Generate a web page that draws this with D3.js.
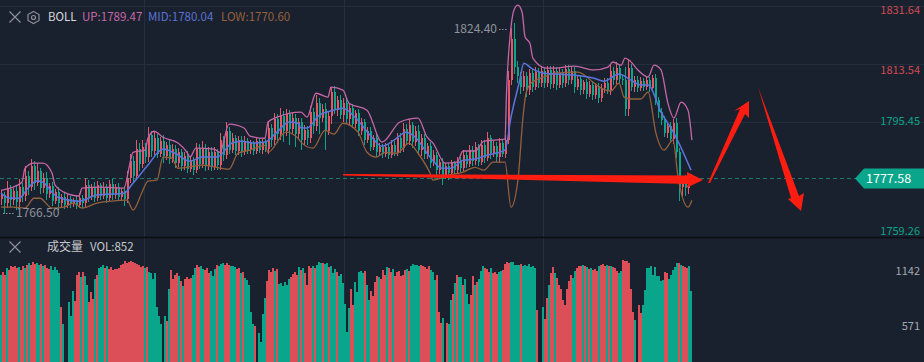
<!DOCTYPE html>
<html><head><meta charset="utf-8">
<script src="https://cdnjs.cloudflare.com/ajax/libs/d3/7.8.5/d3.min.js"></script>
<style>html,body{margin:0;padding:0;background:#1a212e;overflow:hidden}svg{display:block}text{font-family:"Noto Sans CJK SC","Noto Sans",sans-serif}</style>
</head><body><svg id="c" width="924" height="362"></svg>
<script>
const firstOpen = 1771.2;
const closes = [
1772.5,1769.8,1774.2,1771.0,1773.6,1770.2,1774.8,1772.1,1778.4,1775.0,
1781.6,1776.2,1779.8,1774.6,1777.9,1772.8,1775.2,1770.6,1773.4,1769.8,
1771.9,1769.4,1771.2,1769.6,1770.8,1769.3,1771.4,1769.8,1775.6,1771.8,
1774.9,1771.6,1775.4,1772.2,1774.6,1771.4,1775.8,1772.4,1775.0,1771.9,
1773.8,1771.2,1777.6,1783.2,1778.4,1786.8,1782.0,1787.4,1784.2,1791.2,
1786.2,1790.4,1785.4,1789.2,1784.6,1788.1,1783.6,1786.9,1782.4,1785.8,
1781.4,1784.6,1780.6,1783.4,1780.2,1786.9,1782.0,1787.2,1781.6,1786.0,
1781.2,1785.8,1781.8,1789.6,1785.0,1792.4,1786.6,1790.2,1786.2,1789.6,
1785.8,1789.2,1786.4,1788.6,1786.2,1789.2,1786.6,1788.9,1786.8,1793.4,
1789.6,1796.2,1791.4,1797.2,1792.4,1797.8,1793.2,1796.6,1791.4,1795.2,
1789.6,1792.8,1790.2,1798.4,1794.0,1801.2,1796.6,1799.4,1792.6,1797.2,
1804.6,1799.2,1802.2,1797.6,1801.4,1796.2,1799.6,1794.8,1798.0,1792.6,
1795.2,1789.8,1792.4,1787.6,1790.2,1785.9,1787.6,1785.2,1787.4,1785.0,
1788.2,1785.9,1790.4,1787.2,1793.2,1789.4,1794.2,1788.9,1792.6,1786.4,
1790.2,1785.2,1787.8,1782.6,1785.0,1780.4,1782.8,1778.6,1781.4,1779.2,
1782.4,1780.4,1783.2,1781.0,1785.0,1782.2,1786.6,1783.0,1787.4,1782.8,
1788.2,1784.0,1790.2,1785.6,1787.8,1784.2,1788.8,1785.4,1789.8,1808.4,
1821.2,1812.4,1809.6,1806.4,1809.8,1805.2,1810.6,1806.4,1811.0,1807.4,
1811.2,1807.4,1811.6,1807.2,1811.4,1806.8,1810.8,1807.4,1812.0,1808.4,
1811.4,1806.4,1808.8,1805.2,1807.8,1804.2,1807.0,1803.6,1806.6,1802.8,
1805.8,1807.6,1805.2,1811.2,1808.4,1812.2,1808.8,1808.4,1799.4,1812.2,
1806.2,1808.6,1806.0,1808.2,1806.4,1808.4,1806.0,1809.0,1802.2,1798.4,
1796.0,1792.0,1794.0,1790.0,1795.0,1786.0,1775.0,1777.2,1774.6,1778.2,1777.6];
const upperWicks = [
1.4,.8,2.6,1.4,1.1,2,2.6,1.4,3.2,1.4,2,1.4,2.6,1.1,1.4,1.6,1.1,1.4,.8,1.4,
.8,1.1,1.4,.8,.8,1.4,1.6,1.1,2,1.4,1.1,1.6,1.4,.8,1.9,1.4,1.2,1.5,1,1.1,
.8,1.4,2.4,2,1.4,2.9,1.9,2.1,1.4,2.4,1.4,1.7,1.2,1.5,1.9,1,1.4,1.6,1.1,1.4,
1,1.4,1.6,1.1,.8,1.9,1.4,2.1,1.2,1.6,1.4,1.7,1,2.1,1.4,2.9,1.4,1.5,1.1,1.4,
1.4,1.6,1,1.2,.8,1.4,1.1,1.2,1,2.1,1.4,1.9,1.6,2.5,1.4,1.6,1.4,1.7,1.2,1.5,
1.4,1.6,1.1,2,1.4,2.6,1.6,1.5,1.9,1.4,1.7,2,1.1,1.5,1.4,1.6,1.2,1.4,1,1.4,
1.5,1.1,1.4,1.2,1,1.4,1.1,.8,1.2,1,1.4,1.1,1.6,1.4,1.7,1.4,2.1,1.2,1.4,1.6,
1.4,1.2,1,1.1,1.4,1,.8,1.1,1.2,1,1.1,.8,1.2,1,1.6,1.1,1.4,1.2,1.5,1.1,
1.6,1.4,2.1,1.1,1.4,1.2,1.4,1.1,1.4,3,3.6,5,2,1.4,1.6,1.1,1.4,1.2,1.4,1.1,
1.4,1,1.2,1.1,1.4,1.1,1.4,1,1.2,1.1,1.4,1.1,1,1.2,.8,1.1,1,1.2,.8,1,
1.4,1.6,1.6,2.1,1.4,1.9,1.4,1.1,4,2.5,1.4,1.2,1,1.1,.8,1.2,1,1.1,1.4,1,
1.4,1.2,1,1.4,1.1,1.6,1.2,1.1,1.4,1,.8];
const lowerWicks = [
2,3.2,1.4,2.4,1.6,2.6,1.4,1.9,1.5,2.6,1.4,2.1,1.1,1.9,1.4,2,1.4,1.6,1.1,2,
1.1,1.4,1,1.2,.8,1.4,1.1,1.4,1.2,1.6,1.1,1.4,1.2,1.5,1,1.4,1.1,1.5,1.2,1.4,
1.1,2.1,1.2,1.4,2,1.4,2.2,1.2,1.6,1.4,1.9,1.1,1.5,1.2,2,1.1,1.4,1.2,1.5,1.1,
1.6,1.2,1.4,1.1,1.5,1,1.4,1.1,1.6,1.2,1.4,1.1,1.5,1.4,1.9,1.2,1.4,1.1,1.4,1.2,
1.4,1,1.2,1.1,1.4,1,1.1,1.2,1,1.4,2,1.4,2.6,1.6,3.4,1.4,5,1.5,4,1.4,
3,1.4,2.1,1.4,2.4,1.6,5,1.4,6,1.4,2.6,1.4,2,1.4,2.2,1.4,1.9,1.4,1.5,1.6,
1.4,1.6,1.2,1.4,1.1,1.5,1.4,1.2,1,1.4,1.1,1.4,1.2,1.6,1.4,1.1,1.4,1.6,1.2,1.4,
1.7,1.4,1.5,1.7,1.2,1.6,1.4,3.2,1.1,2.1,1.2,1.4,1.1,1.5,1.2,1.4,1.1,1.6,1.2,1.4,
1.1,1.4,1,1.9,1.2,1.4,1.6,1.1,1.4,1.4,1.6,2.1,2,2.3,1.4,2,1.4,1.6,1.2,1.4,
1.1,1.4,1.2,1.6,1.1,1.4,1,1.5,1.1,1.4,1.2,1.9,1.1,1.4,1.2,1.6,1.1,1.4,1.2,1.7,
1.2,1.4,1.1,1.4,1.6,1.2,1.4,1.5,2.3,2.1,1.1,1.4,1.2,1.1,1.4,1,1.2,1.4,1.6,1.9,
1.6,1.4,1.7,1.4,1.5,1.9,4.5,3,2.6,2,1];

const upperBars = [0,3,7,8,11,14,17,18,21,26,27,33,41,43,44,48,49,51,54,59,62,63,65,71,73,76,81,83,88,89,92,100,102,105,109,110,114,116,122,127,133,139,142,144,148,152,154,158,161,168,168.5,170,171,172.3,173.7,174.7,176.3,177.3,181.7,184.3,191,197.7,202.3,204,206.7,208,209.3,212.3,215.7,217.7,220,222.3,224.3,226.7,229,230.3];
const upperBand = [1773.9,1774.6,1776.4,1780.8,1782.4,1782.4,1779.3,1775.5,1773.3,1772.1,1774.6,1774.9,1774.6,1782.4,1785.8,1786.5,1790.2,1792.4,1790.5,1788.7,1785.8,1784.3,1787.1,1786.8,1785.8,1794.6,1793.4,1790.9,1790.2,1795.3,1796.8,1798.4,1796.8,1804.3,1803.1,1806.2,1805.3,1801.2,1799,1789,1795.3,1796.5,1790.6,1788.7,1782.4,1782.7,1786.2,1786.2,1789.3,1789.9,1804.3,1825,1830.4,1831.9,1829.7,1821.9,1820,1815.3,1812.2,1812.2,1812.8,1811.6,1812.5,1814.1,1813.1,1815.3,1814.7,1811.6,1809.4,1813.1,1811.6,1801.2,1796.5,1801.5,1799,1789.6];
const midBars = [0,3,6,9,12,14,17,19,26,32,41,44,49,54,58,63,67,72,77,80,84,88,92,96,99,100,102,106,111,114,118,123,127,131,135,138,143,147,150,154,158,162,168,170,172.7,174.3,176.7,181,191,197.7,201,206,210,213.3,215.7,220,224.3,230];
const midBand = [1773,1771.4,1771.4,1774.6,1776.8,1776.4,1773.3,1771.7,1770.5,1772.4,1773,1776.1,1781.8,1786.8,1785.5,1783,1784.3,1784.3,1788.7,1789.3,1788.7,1789,1792.1,1795.3,1794.9,1793.4,1793.4,1797.4,1799,1799.6,1796.8,1791.2,1787.7,1789.6,1792.1,1790.6,1784.3,1780.8,1780.8,1783.3,1783.7,1784.9,1786.5,1796.8,1807.5,1813.7,1812.2,1810.6,1810,1809,1808.1,1810.3,1808.4,1806.9,1806.9,1798.4,1791.8,1780.2];
const lowBars = [0,4,8,11,13,17,21,24,27,32,37,42,44,47,49,52,54,57,59,67,76,79,83,88,89,95,99,100,104,108,111,114,119,122,125,128,132,136,139,143,144,149,154,158,161,164,168,170,172.3,174,175,176.7,181,184.3,192.3,197.7,200,203.3,206,207.7,210,213.3,215.7,218.3,221,224,225.7,229,230.3];
const lowBand = [1768.6,1768.6,1768.3,1771.4,1771.4,1768.3,1768.6,1769.9,1768.3,1769.9,1770.5,1770.8,1767.7,1773.3,1776.8,1777.1,1784.3,1784,1780.8,1781.8,1780.5,1785.5,1786.5,1788,1785.8,1792.1,1790.2,1789,1787.1,1792.7,1791.5,1794.9,1792.1,1785.8,1784.3,1785.8,1785.5,1788.7,1785.5,1779.3,1777.1,1778.6,1779.6,1781.1,1780.2,1782.7,1782.7,1768.6,1777.1,1796.8,1804.3,1807.5,1809.4,1810.6,1810.9,1807.5,1805.9,1805,1807.5,1803.1,1802.5,1802.5,1804.7,1791.8,1786.5,1789.6,1778,1768.6,1770.8];

const volumes = [
1100,1135,1100,1170,1150,1190,1180,1195,1170,1185,
1150,1190,1175,1205,1220,1200,1235,1215,1230,1205,
1215,1190,1200,1175,1165,1190,1155,1180,1150,1120,
770,590,160,160,820,670,930,830,1100,1130,
1080,1135,1090,1000,820,920,850,1060,1100,1170,
1185,1200,1175,1190,1165,1185,1150,1165,1160,1175,
1200,1215,1245,1230,1240,1250,1235,1225,1215,1205,
1185,1190,1170,1180,1135,1120,1060,1120,770,670,
590,180,680,620,950,1150,1060,1100,1120,1090,
1040,990,1060,1080,1060,1070,1100,1170,1200,1180,
1190,1165,1150,1175,1120,1140,1090,1165,1205,1195,
1215,1225,1205,1220,1200,1190,1190,1180,1165,1170,
1120,1130,1070,1050,1000,720,590,570,180,500,
410,700,860,1040,1150,1130,1170,1140,1160,1010,
1020,985,1030,1000,1060,1080,1110,1130,1100,1180,
1150,1170,1120,1000,1190,1175,1195,1170,1200,1240,
1225,1230,1215,1220,1180,1195,1125,1160,1135,1090,
1115,1020,800,510,760,
950,790,1031,928,1135,1140,1125,1140,1000,840,
930,885,1032,1090,1075,1060,1155,1100,1185,1170,
1130,1160,1095,1135,1140,1090,1105,1150,1160,1140,
1190,1215,1200,1205,1190,1205,1195,1180,1160,1190,
1150,1130,1050,1100,720,600,650,180,600,590,
840,900,1015,1100,1080,1080,1000,1060,900,800,
895,1090,1000,1030,1060,1140,1190,1170,1160,1130,
1170,1120,1135,1115,1130,1145,1150,1215,1235,1225,
1240,1235,1200,1205,1200,1210,1195,1205,1190,1210,
1180,1190,1170,740,180,180,770,640,860,1000,
1120,1185,1120,1070,1000,960,840,790,950,1040,
1100,1070,1140,1170,1190,1190,1205,1190,1180,1160,
1170,1150,1165,1145,1190,1200,1210,1195,1205,1190,
1190,1185,1175,1145,1125,1140,1255,1245,1245,1225,
960,720,630,180,790,710,790,945,1170,1175,
1190,1100,1180,1090,1090,1040,1050,1130,1120,1060,
1100,1150,1180,1225,1225,1200,1195,1180,1170,1190,930];
const volumeSides = ["grrgrrrrrg","rrgrgrrrgg","rgrrrggggg","rggggggrrr","grggrrrgrg","ggrgrrrrrr","rrrrrrrrrr","rrgrgggggg","gggrgrrrrg","rgrrrrggrr","ggrrrgggrg","ggrrrgggrr","grgggggrgg","gggrrrrgrg","gggggrrrrg","rgrrrrgrgg","grggrgggrg","ggggg","rrgggggrgg","rrrrgrrrgr","rgrrrrrrgr","gggggrrrrr","gggrrrggrg","grgrggrggg","rrgrgggrrr","grrrggrrrr","gggggrgggg","gggrgrgrrg","rrgrrrrrrr","rggrrrgrgr","grrrgrrrgr","grrrggrrrr","rrgrrrgggg","gggggggrrg","ggggrgrrrg","g"].join("");

const priceTicks = [1831.64,1813.54,1795.45,1759.26];
const priceTickColors = ["#cf4a52","#cf4a52","#0ba488","#0ba488"];
const priceTickNudges = [4,6,0,-6];
const lastPrice = 1777.58;
const volTicks = [1142,571];
const gridBars = [47.5,114.2,180.8];
const legendTexts = ["BOLL","UP:1789.47","MID:1780.04","LOW:1770.60"];
const legendColors = ["#d8dade","#c566a8","#5a72d4","#94603c"];
const legendX = [48,82,148,221];
const maxLabel = "1824.40", minLabel = "1766.50";

const RED="#dc4f59", GREEN="#0aa68b";
const svg = d3.select("#c");
const x = d3.scaleLinear().domain([0,230]).range([1,691]);
const y = d3.scaleLinear().domain([1759.26,1831.64]).range([237,6]);
const vx = d3.scaleLinear().domain([0,346]).range([0,692]);
const vy = d3.scaleLinear().domain([0,1142]).range([381,271]);

const grid = svg.append("g").attr("stroke","#252e3c").attr("stroke-width",1);
grid.selectAll(".h").data(priceTicks.slice(0,3)).join("line")
  .attr("x1",0).attr("x2",924).attr("y1",d=>Math.round(y(d))+.5).attr("y2",d=>Math.round(y(d))+.5);
grid.selectAll(".v").data(gridBars).join("line")
  .attr("x1",d=>Math.round(x(d))+.5).attr("x2",d=>Math.round(x(d))+.5).attr("y1",0).attr("y2",362);

svg.append("defs").append("clipPath").attr("id","vp").append("rect").attr("x",0).attr("y",238).attr("width",924).attr("height",124);
svg.append("g").attr("clip-path","url(#vp)").attr("shape-rendering","crispEdges").selectAll("rect").data(volumes).join("rect")
  .attr("x",(d,i)=>vx(i)).attr("width",2).attr("y",d=>vy(d)).attr("height",d=>vy(0)-vy(d))
  .attr("fill",(d,i)=>volumeSides[i]==="r"?RED:GREEN);

svg.append("line").attr("x1",0).attr("x2",856).attr("y1",y(lastPrice)).attr("y2",y(lastPrice))
  .attr("stroke","#1f7c6d").attr("stroke-dasharray","4,3");

const CANDLE_RED="#e8566a";
const opens = closes.map((c,i)=>i?closes[i-1]:firstOpen);
const cg = svg.append("g").attr("shape-rendering","crispEdges").selectAll("g").data(closes).join("g")
  .attr("fill",(c,i)=>c>=opens[i]?CANDLE_RED:GREEN);
cg.append("rect").attr("x",(c,i)=>x(i)).attr("width",1)
  .attr("y",(c,i)=>y(Math.max(c,opens[i])+upperWicks[i]))
  .attr("height",(c,i)=>y(Math.min(c,opens[i])-lowerWicks[i])-y(Math.max(c,opens[i])+upperWicks[i]));
cg.append("rect").attr("x",(c,i)=>x(i)).attr("width",2)
  .attr("y",(c,i)=>y(Math.max(c,opens[i]))).attr("height",(c,i)=>Math.max(1,Math.abs(y(c)-y(opens[i]))));

const drawBand=(bars,vals,col,w)=>svg.append("path").datum(vals)
  .attr("fill","none").attr("stroke",col).attr("stroke-width",w).attr("stroke-linejoin","round")
  .attr("d",d3.line().x((d,i)=>x(bars[i])).y(d=>y(d)).curve(d3.curveMonotoneX));
drawBand(upperBars,upperBand,"#c566a8",1.3);
drawBand(lowBars,lowBand,"#94603c",1.3);
drawBand(midBars,midBand,"#5a74dc",1.5);

svg.append("line").attr("x1",0).attr("x2",924).attr("y1",237.5).attr("y2",237.5).attr("stroke","#0b0e13").attr("stroke-width",1.5);

svg.append("g").selectAll("text").data(priceTicks).join("text")
  .attr("x",920).attr("y",(d,i)=>y(d)+priceTickNudges[i]).attr("dy","0.35em").attr("text-anchor","end")
  .attr("font-size",11).attr("fill",(d,i)=>priceTickColors[i]).text(d=>d.toFixed(2));
svg.append("g").selectAll("text").data(volTicks).join("text")
  .attr("x",920).attr("y",d=>vy(d)).attr("dy","0.35em").attr("text-anchor","end")
  .attr("font-size",11).attr("fill","#a3a7ae").text(d=>d);

const ly=y(lastPrice);
svg.append("path").attr("fill",GREEN).attr("d",`M855,${ly} L864,${ly-10} L924,${ly-10} L924,${ly+10} L864,${ly+10} Z`);
svg.append("text").attr("x",866).attr("y",ly).attr("dy","0.36em").attr("font-size",12.5).attr("fill","#fff").text(lastPrice.toFixed(2));

const ex=(lab,tx,ty,a,l1,l2)=>{
  svg.append("text").attr("x",tx).attr("y",ty).attr("dy","0.35em").attr("text-anchor",a).attr("font-size",12).attr("fill","#8f939b").text(lab);
  svg.append("line").attr("x1",l1).attr("x2",l2).attr("y1",ty+.5).attr("y2",ty+.5).attr("stroke","#8f939b").attr("stroke-dasharray","1.5,1.5");
};
ex(maxLabel,497,29,"end",499,508);
ex(minLabel,16,213,"start",3,15);

svg.append("g").selectAll("text").data(legendTexts).join("text")
  .attr("x",(d,i)=>legendX[i]).attr("y",17).attr("dy","0.36em").attr("font-size",11.5).attr("fill",(d,i)=>legendColors[i]).text(d=>d);
const cross=(cx,cy)=>svg.append("path").attr("d",`M${cx-5.5},${cy-5.5}L${cx+5.5},${cy+5.5}M${cx+5.5},${cy-5.5}L${cx-5.5},${cy+5.5}`).attr("stroke","#8a8f98").attr("stroke-width",1.2).attr("fill","none");
cross(15,17); cross(15,247);
svg.append("path").attr("d","M33.5,11.5L39,14.5L39,20.5L33.5,23.5L28,20.5L28,14.5Z").attr("fill","none").attr("stroke","#8a8f98").attr("stroke-width",1.2);
svg.append("circle").attr("cx",33.5).attr("cy",17.5).attr("r",2).attr("fill","none").attr("stroke","#8a8f98").attr("stroke-width",1.2);
svg.append("text").attr("x",47).attr("y",247).attr("dy","0.36em").attr("font-size",12).attr("fill","#c6c8cc").text("成交量");
svg.append("text").attr("x",90).attr("y",247).attr("dy","0.36em").attr("font-size",11.5).attr("fill","#c6c8cc").text("VOL:852");

const arrows=["343,174 687,175.5 687,172 703,180 686,188 688,184 343,175.5",
"708,183 740,109 734,111 749,101 749,118 745,114 710,183",
"758,87 799,196 804,193 801,211 788,199 791,198 758,87"];
svg.append("g").selectAll("polygon").data(arrows).join("polygon").attr("points",d=>d).attr("fill","#ff1c10");
</script></body></html>
